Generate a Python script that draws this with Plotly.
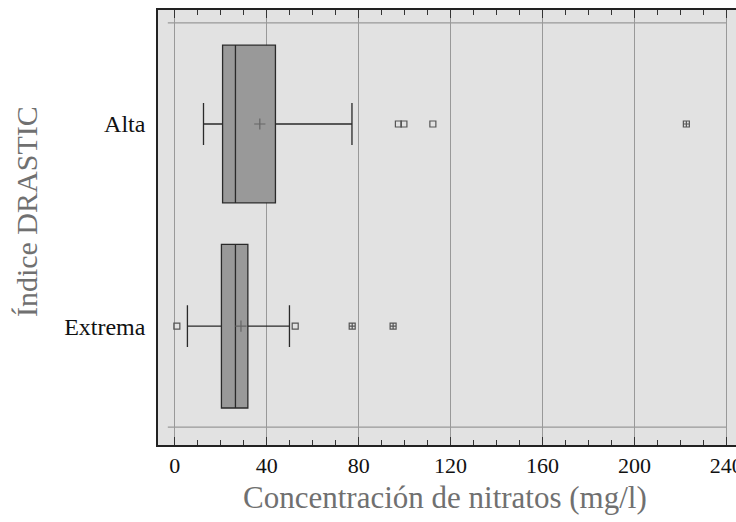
import plotly.graph_objects as go

categories = ["Alta", "Extrema"]
q1 = [20.8, 20.3]
median = [26.4, 26.4]
q3 = [43.8, 31.8]
lower_whisker = [12.5, 5.5]
upper_whisker = [77.1, 49.9]
means = [37.0, 28.8]
near_outliers = {"Alta": [97.3, 99.7, 112.3], "Extrema": [0.9, 52.4]}
far_outliers = {"Alta": [222.6], "Extrema": [77.2, 95.0]}
x_ticks = [0, 40, 80, 120, 160, 200, 240]

box_widths = {"Alta": 0.78, "Extrema": 0.81}
whisker_w = {"Alta": 0.265, "Extrema": 0.255}

fig = go.Figure()
for i, c in enumerate(categories):
    fig.add_trace(go.Box(
        y=[c], q1=[q1[i]], median=[median[i]], q3=[q3[i]],
        lowerfence=[lower_whisker[i]], upperfence=[upper_whisker[i]],
        orientation="h", width=box_widths[c], whiskerwidth=whisker_w[c],
        fillcolor="#999999", line=dict(color="#2a2a2a", width=1.3),
        boxpoints=False, showlegend=False, hoverinfo="skip"))
    fig.add_trace(go.Scatter(
        x=[means[i]], y=[c], mode="markers",
        marker=dict(symbol="cross-thin", size=8, line=dict(color="#666666", width=1.2)),
        showlegend=False))
    fig.add_trace(go.Scatter(
        x=near_outliers[c], y=[c] * len(near_outliers[c]), mode="markers",
        marker=dict(symbol="square-open", size=6, color="#555555", line=dict(width=1.2)),
        showlegend=False))
    fig.add_trace(go.Scatter(
        x=far_outliers[c], y=[c] * len(far_outliers[c]), mode="markers",
        marker=dict(symbol="square-cross-open", size=6, color="#555555", line=dict(width=1.2)),
        showlegend=False))

# invisible trace to anchor the top tick axis
fig.add_trace(go.Scatter(x=[0], y=["Alta"], xaxis="x2", mode="markers",
                         marker=dict(opacity=0), showlegend=False, hoverinfo="skip"))

# horizontal reference lines at the category extremes
for yv in [-0.5, 1.5]:
    fig.add_shape(type="line", xref="paper", yref="y", x0=0.017, x1=0.984, y0=yv, y1=yv,
                  line=dict(color="#999999", width=1.3), layer="below")

serif = "Liberation Serif, Times New Roman, serif"
tick_common = dict(ticks="inside", ticklen=8, tickwidth=1.2, tickcolor="#333333",
                   minor=dict(dtick=10, ticks="inside", ticklen=5, tickwidth=1,
                              tickcolor="#333333", showgrid=False))
fig.update_layout(
    width=736, height=522,
    margin=dict(l=158, r=0, t=10, b=77, autoexpand=False),
    paper_bgcolor="white", plot_bgcolor="#e2e2e2",
    font=dict(family=serif, color="#111111", size=22),
    xaxis=dict(
        range=[-7.3, 244.2], tickvals=x_ticks, ticktext=[str(v) for v in x_ticks],
        showgrid=True, gridcolor="#999999", gridwidth=1.3, zeroline=False,
        showline=True, linecolor="#222222", linewidth=1.5, mirror=True,
        automargin=False, ticklabeloverflow="allow",
        tickfont=dict(family=serif, size=22, color="#111111"),
        **tick_common,
    ),
    xaxis2=dict(
        overlaying="x", side="top", matches="x", range=[-7.3, 244.2], tickvals=x_ticks,
        showgrid=False, zeroline=False, showticklabels=False, showline=False,
        automargin=False, anchor="y",
        **tick_common,
    ),
    yaxis=dict(
        type="category", categoryorder="array", categoryarray=["Extrema", "Alta"],
        range=[-0.588, 1.564], showgrid=False, zeroline=False,
        showline=True, linecolor="#222222", linewidth=1.5, mirror=False,
        ticks="", ticklabelstandoff=6, automargin=False,
        tickfont=dict(family=serif, size=24, color="#111111"),
    ),
    annotations=[
        dict(text="Concentración de nitratos (mg/l)", xref="paper", yref="paper",
             x=(445 - 158) / 578, y=-(497 - 444.8) / 434.8, xanchor="center", yanchor="middle",
             showarrow=False, font=dict(family=serif, size=31, color="#707070")),
        dict(text="Índice DRASTIC", xref="paper", yref="paper", textangle=-90,
             x=-(158 - 26) / 578, y=(444.8 - 212) / 434.8, xanchor="center", yanchor="middle",
             showarrow=False, font=dict(family=serif, size=30, color="#707070")),
    ],
)

fig.write_html("out.html", config={"displayModeBar": False},
               post_script="document.body.style.margin='0';document.body.style.overflow='hidden';")
